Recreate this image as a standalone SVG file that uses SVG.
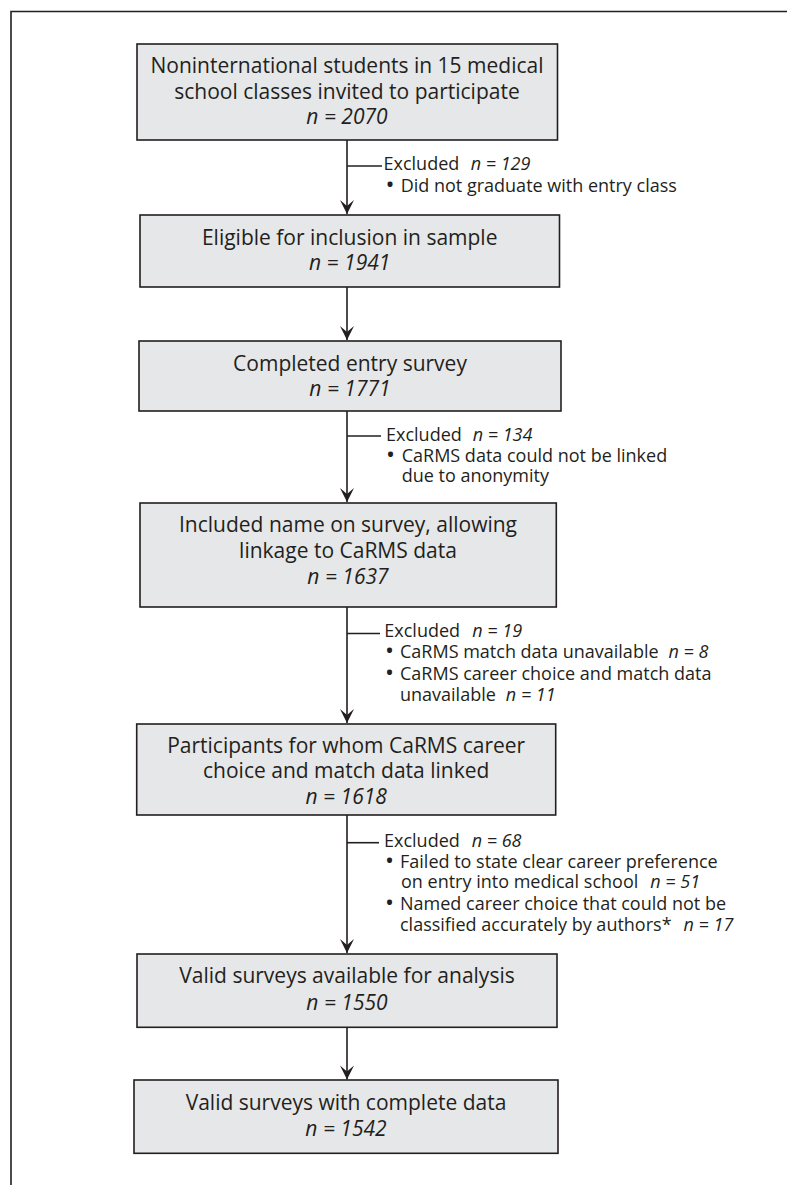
<svg xmlns="http://www.w3.org/2000/svg" width="787" height="1185" viewBox="0 0 787 1185">
<style>
.box{fill:#e6e7e8;stroke:#231f20;stroke-width:1.6}
.bt{font-family:"Open Sans","Noto Sans","Liberation Sans",sans-serif;font-size:21px;fill:#231f20;text-anchor:middle}
.et{font-family:"Open Sans","Noto Sans","Liberation Sans",sans-serif;font-size:18px;fill:#231f20}
.i{font-style:italic}
.b{font-size:24px}
.ln{stroke:#231f20;stroke-width:1.6;fill:none}
</style>
<defs>
<marker id="ah" markerUnits="userSpaceOnUse" markerWidth="16" markerHeight="16" viewBox="-15 -8 16 16" refX="0" refY="0" orient="auto">
<path d="M0,0 L-14,-7 L-8,0 L-14,7 Z" fill="#231f20"/>
</marker>
</defs>
<rect width="787" height="1185" fill="#fff"/>
<path class="ln" d="M11,1185 V11.5 H787"/>
<g id="connectors">
<line class="ln" x1="347" y1="140" x2="347" y2="214" marker-end="url(#ah)"/>
<line class="ln" x1="347" y1="166" x2="382" y2="166"/>
<line class="ln" x1="347" y1="287" x2="347" y2="340" marker-end="url(#ah)"/>
<line class="ln" x1="347" y1="411" x2="347" y2="502" marker-end="url(#ah)"/>
<line class="ln" x1="347" y1="436" x2="381" y2="436"/>
<line class="ln" x1="347" y1="607" x2="347" y2="723" marker-end="url(#ah)"/>
<line class="ln" x1="347" y1="633.5" x2="380" y2="633.5"/>
<line class="ln" x1="347" y1="815" x2="347" y2="953" marker-end="url(#ah)"/>
<line class="ln" x1="347" y1="842.7" x2="379" y2="842.7"/>
<line class="ln" x1="347" y1="1027" x2="347" y2="1079.5" marker-end="url(#ah)"/>
</g>
<g id="n1">
<rect class="box" x="137" y="44" width="420.5" height="96"/>
<text class="bt" x="347" y="73.3">Noninternational students in 15 medical</text>
<text class="bt" x="347" y="99">school classes invited to participate</text>
<text class="bt i" x="347" y="124">n = 2070</text>
</g>
<g id="x1">
<text class="et" x="383.5" y="170">Excluded<tspan class="i" x="470.7">n = 129</tspan></text>
<text class="et" x="385.5" y="192.5"><tspan class="b">•</tspan><tspan x="400.7" y="191.7">Did not graduate with entry class</tspan></text>
</g>
<g id="n2">
<rect class="box" x="140" y="215" width="419.5" height="72"/>
<text class="bt" x="349.7" y="245">Eligible for inclusion in sample</text>
<text class="bt i" x="349.7" y="270">n = 1941</text>
</g>
<g id="n3">
<rect class="box" x="139" y="341" width="422" height="70"/>
<text class="bt" x="350" y="370.7">Completed entry survey</text>
<text class="bt i" x="350" y="395.7">n = 1771</text>
</g>
<g id="x2">
<text class="et" x="386" y="440.5">Excluded<tspan class="i" x="472.7">n = 134</tspan></text>
<text class="et" x="386" y="463"><tspan class="b">•</tspan><tspan x="401.7" y="462.3">CaRMS data could not be linked</tspan></text>
<text class="et" x="401.7" y="482.3">due to anonymity</text>
</g>
<g id="n4">
<rect class="box" x="140" y="503" width="416.3" height="104"/>
<text class="bt" x="348" y="532.3">Included name on survey, allowing</text>
<text class="bt" x="348" y="558.3">linkage to CaRMS data</text>
<text class="bt i" x="348" y="584">n = 1637</text>
</g>
<g id="x3">
<text class="et" x="384.3" y="636.8">Excluded<tspan class="i" x="472.3">n = 19</tspan></text>
<text class="et" x="385" y="658.7"><tspan class="b">•</tspan><tspan x="400" y="658">CaRMS match data unavailable</tspan><tspan class="i" dx="10">n = 8</tspan></text>
<text class="et" x="385" y="680.7"><tspan class="b">•</tspan><tspan x="400" y="680">CaRMS career choice and match data</tspan></text>
<text class="et" x="400" y="701">unavailable<tspan class="i" dx="10">n = 11</tspan></text>
</g>
<g id="n5">
<rect class="box" x="136.7" y="724" width="419" height="91"/>
<text class="bt" x="346.2" y="753.3">Participants for whom CaRMS career</text>
<text class="bt" x="346.2" y="778.3">choice and match data linked</text>
<text class="bt i" x="346.2" y="804.3">n = 1618</text>
</g>
<g id="x4">
<text class="et" x="384" y="846.7">Excluded<tspan class="i" x="471.7">n = 68</tspan></text>
<text class="et" x="385" y="869"><tspan class="b">•</tspan><tspan x="400" y="868.3">Failed to state clear career preference</tspan></text>
<text class="et" x="401" y="888.3">on entry into medical school<tspan class="i" dx="12">n = 51</tspan></text>
<text class="et" x="385" y="910.7"><tspan class="b">•</tspan><tspan x="400" y="910">Named career choice that could not be</tspan></text>
<text class="et" x="400" y="930.7">classified accurately by authors*<tspan class="i" dx="12">n = 17</tspan></text>
</g>
<g id="n6">
<rect class="box" x="137" y="954" width="420" height="73.3"/>
<text class="bt" x="347" y="983.3">Valid surveys available for analysis</text>
<text class="bt i" x="347" y="1010">n = 1550</text>
</g>
<g id="n7">
<rect class="box" x="134" y="1080" width="424" height="73.3"/>
<text class="bt" x="346" y="1110">Valid surveys with complete data</text>
<text class="bt i" x="346" y="1136">n = 1542</text>
</g>
</svg>
